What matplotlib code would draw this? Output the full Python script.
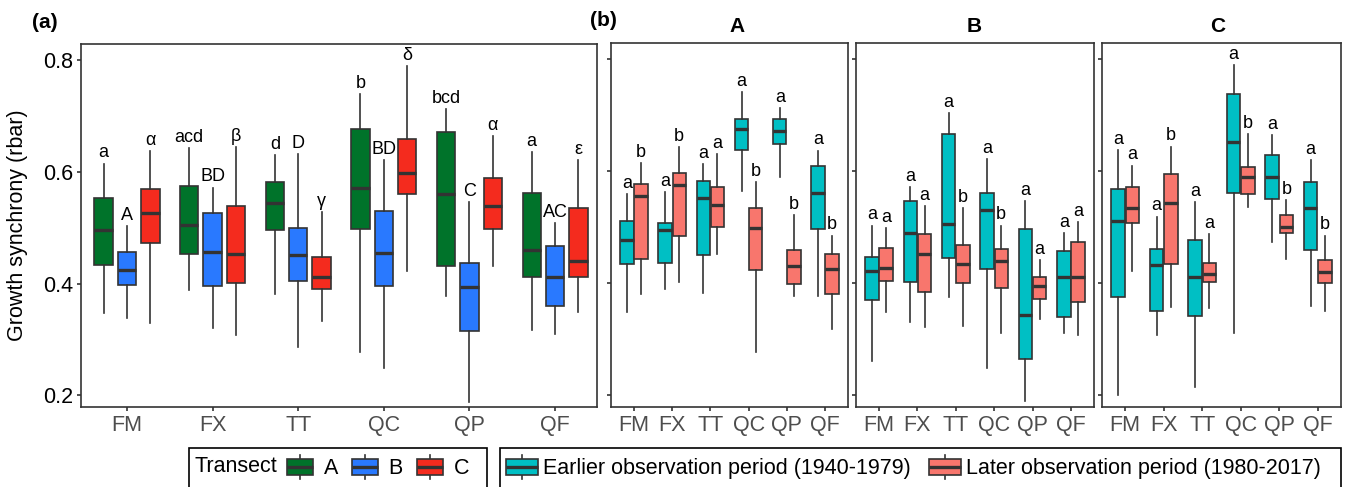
import matplotlib
matplotlib.use('Agg')
import matplotlib.pyplot as plt
from matplotlib.patches import Rectangle, Patch
from matplotlib.lines import Line2D
from matplotlib.legend_handler import HandlerBase

plt.rcParams['font.family'] = ['Liberation Sans', 'DejaVu Sans']

species = ['FM', 'FX', 'TT', 'QC', 'QP', 'QF']

# each entry: (lower whisker, Q1, median, Q3, upper whisker) per species
# panel (a), by transect
transect_A = [(0.347, 0.434, 0.496, 0.554, 0.615), (0.388, 0.453, 0.505, 0.574, 0.642),
              (0.381, 0.496, 0.545, 0.582, 0.630), (0.278, 0.497, 0.572, 0.676, 0.740),
              (0.378, 0.431, 0.561, 0.672, 0.712), (0.317, 0.412, 0.461, 0.562, 0.636)]
transect_B = [(0.338, 0.398, 0.424, 0.457, 0.503), (0.320, 0.396, 0.457, 0.527, 0.572),
              (0.287, 0.404, 0.451, 0.500, 0.632), (0.249, 0.396, 0.454, 0.530, 0.621),
              (0.188, 0.315, 0.393, 0.436, 0.546), (0.309, 0.360, 0.411, 0.467, 0.508)]
transect_C = [(0.330, 0.472, 0.527, 0.569, 0.638), (0.308, 0.401, 0.453, 0.539, 0.645),
              (0.333, 0.391, 0.412, 0.447, 0.528), (0.423, 0.561, 0.598, 0.659, 0.789),
              (0.431, 0.497, 0.539, 0.589, 0.664), (0.350, 0.412, 0.441, 0.535, 0.621)]
letters_A = ['a', 'acd', 'd', 'b', 'bcd', 'a']
letters_B = ['A', 'BD', 'D', 'BD', 'C', 'AC']
letters_C = ['α', 'β', 'γ', 'δ', 'α', 'ε']

# panel (b), by transect and period
A_early = [(0.348, 0.435, 0.477, 0.511, 0.559), (0.389, 0.436, 0.495, 0.507, 0.563),
           (0.382, 0.450, 0.552, 0.583, 0.613), (0.565, 0.638, 0.675, 0.694, 0.741),
           (0.589, 0.649, 0.672, 0.694, 0.713), (0.377, 0.497, 0.562, 0.610, 0.637)]
A_late = [(0.380, 0.444, 0.555, 0.577, 0.615), (0.402, 0.485, 0.575, 0.596, 0.643),
          (0.453, 0.500, 0.540, 0.571, 0.630), (0.277, 0.423, 0.498, 0.535, 0.580),
          (0.377, 0.398, 0.431, 0.460, 0.522), (0.318, 0.380, 0.425, 0.452, 0.485)]
B_early = [(0.261, 0.370, 0.422, 0.446, 0.503), (0.331, 0.402, 0.489, 0.547, 0.572),
           (0.376, 0.445, 0.506, 0.666, 0.704), (0.249, 0.425, 0.530, 0.562, 0.621),
           (0.189, 0.264, 0.344, 0.497, 0.547), (0.312, 0.340, 0.411, 0.458, 0.490)]
B_late = [(0.349, 0.404, 0.428, 0.463, 0.498), (0.322, 0.385, 0.453, 0.488, 0.538),
          (0.323, 0.400, 0.434, 0.468, 0.534), (0.312, 0.392, 0.440, 0.461, 0.503),
          (0.337, 0.372, 0.395, 0.411, 0.441), (0.308, 0.367, 0.411, 0.474, 0.509)]
C_early = [(0.200, 0.375, 0.512, 0.568, 0.638), (0.308, 0.350, 0.432, 0.461, 0.519),
           (0.215, 0.341, 0.411, 0.477, 0.545), (0.312, 0.562, 0.652, 0.738, 0.789),
           (0.473, 0.550, 0.590, 0.629, 0.664), (0.359, 0.460, 0.534, 0.581, 0.620)]
C_late = [(0.422, 0.508, 0.535, 0.571, 0.610), (0.358, 0.435, 0.544, 0.595, 0.644),
          (0.356, 0.402, 0.416, 0.437, 0.488), (0.537, 0.559, 0.589, 0.608, 0.666),
          (0.444, 0.489, 0.500, 0.522, 0.549), (0.351, 0.400, 0.420, 0.441, 0.485)]
early_letters = {'A': ['a'] * 6, 'B': ['a'] * 6, 'C': ['a'] * 6}
late_letters = {'A': ['b', 'b', 'a', 'b', 'b', 'b'],
                'B': ['a', 'a', 'b', 'b', 'a', 'a'],
                'C': ['a', 'b', 'a', 'b', 'b', 'b']}

green, blue, red = '#00732A', '#2979FF', '#F42B1E'
teal, salmon = '#00BFC4', '#F8766D'
edge = '#333333'
fs = 15.5

W, H = 1351, 487
fig = plt.figure(figsize=(W / 100, H / 100), dpi=100)


def px_axes(left, top, right, bottom):
    return fig.add_axes([left / W, 1 - bottom / H, (right - left) / W, (bottom - top) / H])


def draw_boxes(ax, rows, letters, offset, width, color):
    pos = [i + 1 + offset for i in range(len(rows))]
    st = [dict(whislo=r[0], q1=r[1], med=r[2], q3=r[3], whishi=r[4], fliers=[]) for r in rows]
    ax.bxp(st, positions=pos, widths=width, patch_artist=True, showcaps=False,
           showfliers=False, manage_ticks=False,
           boxprops=dict(facecolor=color, edgecolor=edge, linewidth=1.2),
           medianprops=dict(color=edge, linewidth=2.4, solid_capstyle='butt'),
           whiskerprops=dict(color=edge, linewidth=1.2))
    for p, r, t in zip(pos, rows, letters):
        ax.text(p, r[4] + 0.011, t, ha='center', va='baseline', fontsize=13)


def style(ax, xlim):
    ax.set_xlim(xlim)
    ax.set_ylim(0.179, 0.829)
    ax.set_xticks(range(1, 7))
    ax.set_xticklabels(species)
    ax.set_yticks([0.2, 0.4, 0.6, 0.8])
    for s in ax.spines.values():
        s.set_color(edge)
        s.set_linewidth(1.2)
    ax.tick_params(length=3, width=1.2, color=edge, labelsize=fs, pad=2.5)
    ax.tick_params(axis='x', labelcolor='#4D4D4D')


# panel (a)
ax_a = px_axes(81, 44, 597, 407)
for rows, lets, off, col in [(transect_A, letters_A, -0.273, green),
                             (transect_B, letters_B, 0.0, blue),
                             (transect_C, letters_C, 0.273, red)]:
    draw_boxes(ax_a, rows, lets, off, 0.214, col)
style(ax_a, (0.463, 6.49))
ax_a.set_ylabel('Growth synchrony (rbar)', fontsize=fs)
ax_a.yaxis.set_label_coords(-0.103, 0.5)

# panel (b)
panels = [('A', 611, 848, A_early, A_late, 0.53),
          ('B', 856, 1094, B_early, B_late, 0.496),
          ('C', 1102, 1341, C_early, C_late, 0.485)]
for name, left, right, early, late, tx in panels:
    ax = px_axes(left, 43, right, 407)
    draw_boxes(ax, early, early_letters[name], -0.185, 0.35, teal)
    draw_boxes(ax, late, late_letters[name], 0.185, 0.35, salmon)
    style(ax, (0.4, 6.6))
    ax.tick_params(axis='y', labelleft=False)
    ax.set_title(name, fontweight='bold', fontsize=15, pad=8, x=tx)

fig.text(32 / W, 1 - 23 / H, '(a)', fontweight='bold', fontsize=15, va='center', ha='left')
fig.text(590 / W, 1 - 21 / H, '(b)', fontweight='bold', fontsize=15, va='center', ha='left')


class BoxKey(HandlerBase):
    def create_artists(self, legend, orig_handle, xdescent, ydescent, width, height, fontsize, trans):
        x0, y0 = -xdescent, -ydescent
        mid = x0 + width / 2
        box_h = height * 0.67
        yb = y0 + (height - box_h) / 2
        rect = Rectangle((x0, yb), width, box_h, facecolor=orig_handle.get_facecolor(),
                         edgecolor=edge, lw=1.2, transform=trans)
        med = Line2D([x0, x0 + width], [yb + box_h / 2] * 2, color=edge, lw=2.4,
                     solid_capstyle='butt', transform=trans)
        top = Line2D([mid, mid], [yb + box_h, y0 + height], color=edge, lw=1.2, transform=trans)
        bot = Line2D([mid, mid], [y0, yb], color=edge, lw=1.2, transform=trans)
        return [top, bot, rect, med]


leg_y = 1 - 467 / H
fig.text(195 / W, leg_y, 'Transect', fontsize=fs, va='center', ha='left')
fig.legend([Patch(facecolor=green), Patch(facecolor=blue), Patch(facecolor=red)],
           ['A', 'B', 'C'], handler_map={Patch: BoxKey()}, ncol=3, frameon=False,
           loc='center left', bbox_to_anchor=(287 / W, leg_y), fontsize=fs,
           handlelength=1.2, handleheight=1.4, handletextpad=0.5, columnspacing=0.65,
           borderpad=0, borderaxespad=0)
fig.legend([Patch(facecolor=teal), Patch(facecolor=salmon)],
           ['Earlier observation period (1940-1979)', 'Later observation period (1980-2017)'],
           handler_map={Patch: BoxKey()}, ncol=2, frameon=False,
           loc='center left', bbox_to_anchor=(506 / W, leg_y), fontsize=fs,
           handlelength=1.5, handleheight=1.4, handletextpad=0.23, columnspacing=0.84,
           borderpad=0, borderaxespad=0)

for x0, x1 in [(189, 487), (500, 1341)]:
    fig.patches.append(Rectangle((x0 / W, 1 - 492 / H), (x1 - x0) / W, 44 / H,
                                 transform=fig.transFigure, fill=False,
                                 edgecolor='black', lw=1.2))

fig.savefig('out.png', dpi=100)
